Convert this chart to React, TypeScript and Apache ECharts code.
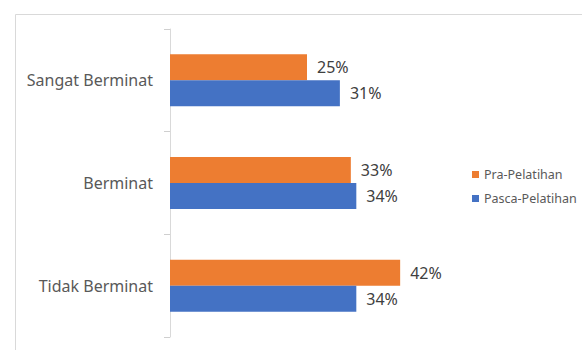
import React, { useEffect, useRef } from "react";
import * as echarts from "echarts";

const categories = ["Sangat Berminat", "Berminat", "Tidak Berminat"];
const praValues = [25, 33, 42];
const pascaValues = [31, 34, 34];
const seriesNames = ["Pra-Pelatihan", "Pasca-Pelatihan"];

const FONT = "'Noto Sans', sans-serif";

export default function App() {
  const ref = useRef<HTMLDivElement>(null);
  useEffect(() => {
    if (!ref.current) return;
    const chart = echarts.init(ref.current, null, { renderer: "svg" });
    const label = {
      show: true,
      position: "right",
      distance: 10,
      color: "#404040",
      fontSize: 16,
      fontFamily: FONT,
      formatter: (p: any) => `${p.value}%`,
    };
    chart.setOption({
      animation: false,
      backgroundColor: "#ffffff",
      graphic: [
        {
          type: "rect",
          left: 13,
          top: 12,
          shape: { x: 0, y: 0, width: 600, height: 400 },
          style: { fill: "none", stroke: "#d9d9d9", lineWidth: 1 },
          silent: true,
        },
      ],
      legend: {
        orient: "vertical",
        left: 467,
        top: 163,
        itemWidth: 7,
        itemHeight: 7,
        itemGap: 11,
        icon: "rect",
        textStyle: { color: "#595959", fontSize: 12.5, fontFamily: FONT },
        data: seriesNames,
      },
      grid: { left: 170, top: 29, height: 308, width: 274 },
      xAxis: {
        type: "value",
        min: 0,
        max: 50,
        show: false,
        splitLine: { show: false },
      },
      yAxis: {
        type: "category",
        inverse: true,
        data: categories,
        axisLine: { show: true, lineStyle: { color: "#d9d9d9" } },
        axisTick: { show: true, length: 6, lineStyle: { color: "#cfcfcf", width: 1 } },
        axisLabel: { color: "#595959", fontSize: 16, fontFamily: FONT, margin: 17 },
      },
      series: [
        {
          name: seriesNames[0],
          type: "bar",
          data: praValues,
          barWidth: 26,
          barGap: "0%",
          itemStyle: { color: "#ED7D31" },
          label,
        },
        {
          name: seriesNames[1],
          type: "bar",
          data: pascaValues,
          barWidth: 26,
          barGap: "0%",
          itemStyle: { color: "#4472C4" },
          label,
        },
      ],
    });
    return () => chart.dispose();
  }, []);
  return (
    <div
      ref={ref}
      style={{ position: "absolute", left: 0, top: 0, width: 582, height: 350 }}
    />
  );
}
